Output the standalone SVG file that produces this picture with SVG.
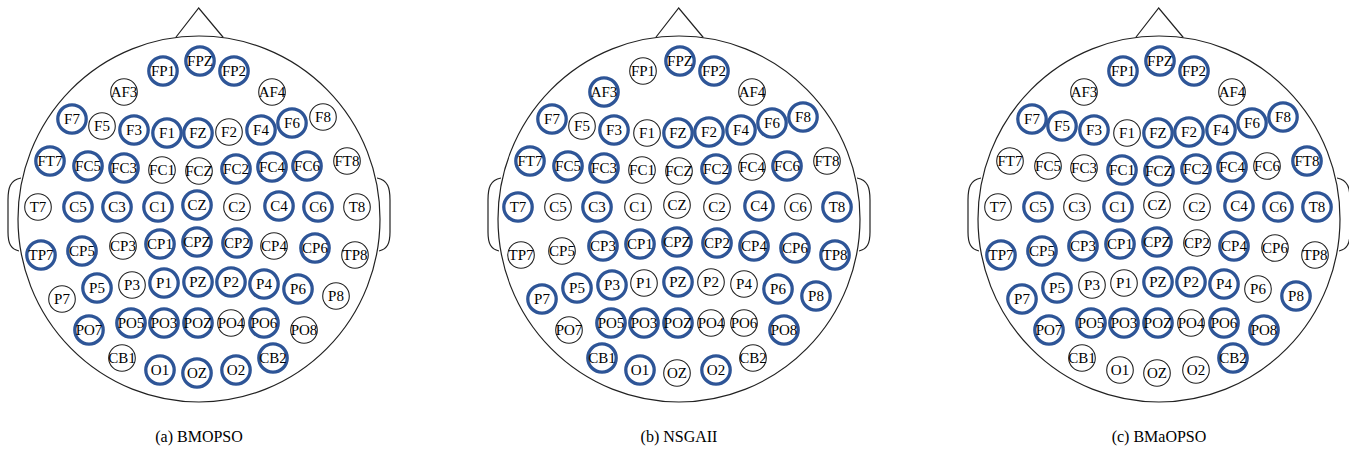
<svg xmlns="http://www.w3.org/2000/svg" width="1349" height="452" viewBox="0 0 1349 452">
<style>
.head{fill:none;stroke:#222;stroke-width:1.2}
.u{fill:none;stroke:#222;stroke-width:1.1}
.s{fill:none;stroke:#2E5597;stroke-width:3.3}
.lb{font-family:"Liberation Serif","Times New Roman",serif;font-size:15px;fill:#000;text-anchor:middle}
.cap{font-family:"Liberation Serif","Times New Roman",serif;font-size:16px;fill:#000;text-anchor:middle}
</style>
<defs>
<g id="outline">
<ellipse class="head" cx="199" cy="219" rx="181" ry="183"/>
<path class="head" d="M175.7,37.5 L198.7,8 L223.3,37.5"/>
<path class="head" d="M21,178 C10,180 8,188 8,200 L8,232 C8,244 11,249 19,251"/>
<path class="head" d="M377,178 C388,180 390,188 390,200 L390,232 C390,244 387,249 379,251"/>
</g>
</defs>
<!-- Head (a) BMOPSO -->
<g id="head-a">
<use href="#outline"/>
<g id="a-FPZ"><circle class="s" cx="200" cy="61" r="14.2"/><text class="lb" x="200" y="66.3">FPZ</text></g>
<g id="a-FP1"><circle class="s" cx="163" cy="71" r="14.2"/><text class="lb" x="163" y="76.3">FP1</text></g>
<g id="a-FP2"><circle class="s" cx="234" cy="71" r="14.2"/><text class="lb" x="234" y="76.3">FP2</text></g>
<g id="a-AF3"><circle class="u" cx="124" cy="92" r="13.3"/><text class="lb" x="124" y="97.3">AF3</text></g>
<g id="a-AF4"><circle class="u" cx="272" cy="92" r="13.3"/><text class="lb" x="272" y="97.3">AF4</text></g>
<g id="a-F7"><circle class="s" cx="72" cy="119" r="14.2"/><text class="lb" x="72" y="124.3">F7</text></g>
<g id="a-F5"><circle class="u" cx="102" cy="126" r="13.3"/><text class="lb" x="102" y="131.3">F5</text></g>
<g id="a-F3"><circle class="s" cx="134" cy="130" r="14.2"/><text class="lb" x="134" y="135.3">F3</text></g>
<g id="a-F1"><circle class="s" cx="167" cy="133" r="14.2"/><text class="lb" x="167" y="138.3">F1</text></g>
<g id="a-FZ"><circle class="s" cx="198" cy="133" r="14.2"/><text class="lb" x="198" y="138.3">FZ</text></g>
<g id="a-F2"><circle class="u" cx="229" cy="132" r="13.3"/><text class="lb" x="229" y="137.3">F2</text></g>
<g id="a-F4"><circle class="s" cx="261" cy="130" r="14.2"/><text class="lb" x="261" y="135.3">F4</text></g>
<g id="a-F6"><circle class="s" cx="292" cy="123" r="14.2"/><text class="lb" x="292" y="128.3">F6</text></g>
<g id="a-F8"><circle class="u" cx="323" cy="117" r="13.3"/><text class="lb" x="323" y="122.3">F8</text></g>
<g id="a-FT7"><circle class="s" cx="50" cy="161" r="14.2"/><text class="lb" x="50" y="166.3">FT7</text></g>
<g id="a-FC5"><circle class="s" cx="88" cy="166" r="14.2"/><text class="lb" x="88" y="171.3">FC5</text></g>
<g id="a-FC3"><circle class="s" cx="124" cy="168" r="14.2"/><text class="lb" x="124" y="173.3">FC3</text></g>
<g id="a-FC1"><circle class="u" cx="162" cy="170" r="13.3"/><text class="lb" x="162" y="175.3">FC1</text></g>
<g id="a-FCZ"><circle class="u" cx="199" cy="171" r="13.3"/><text class="lb" x="199" y="176.3">FCZ</text></g>
<g id="a-FC2"><circle class="s" cx="236" cy="169" r="14.2"/><text class="lb" x="236" y="174.3">FC2</text></g>
<g id="a-FC4"><circle class="s" cx="272" cy="167" r="14.2"/><text class="lb" x="272" y="172.3">FC4</text></g>
<g id="a-FC6"><circle class="s" cx="307" cy="166" r="14.2"/><text class="lb" x="307" y="171.3">FC6</text></g>
<g id="a-FT8"><circle class="u" cx="347" cy="161" r="13.3"/><text class="lb" x="347" y="166.3">FT8</text></g>
<g id="a-T7"><circle class="u" cx="38" cy="207" r="13.3"/><text class="lb" x="38" y="212.3">T7</text></g>
<g id="a-C5"><circle class="s" cx="78" cy="207" r="14.2"/><text class="lb" x="78" y="212.3">C5</text></g>
<g id="a-C3"><circle class="s" cx="117" cy="207" r="14.2"/><text class="lb" x="117" y="212.3">C3</text></g>
<g id="a-C1"><circle class="s" cx="158" cy="207" r="14.2"/><text class="lb" x="158" y="212.3">C1</text></g>
<g id="a-CZ"><circle class="s" cx="197" cy="205" r="14.2"/><text class="lb" x="197" y="210.3">CZ</text></g>
<g id="a-C2"><circle class="u" cx="237" cy="207" r="13.3"/><text class="lb" x="237" y="212.3">C2</text></g>
<g id="a-C4"><circle class="s" cx="279" cy="206" r="14.2"/><text class="lb" x="279" y="211.3">C4</text></g>
<g id="a-C6"><circle class="s" cx="318" cy="207" r="14.2"/><text class="lb" x="318" y="212.3">C6</text></g>
<g id="a-T8"><circle class="u" cx="357" cy="207" r="13.3"/><text class="lb" x="357" y="212.3">T8</text></g>
<g id="a-TP7"><circle class="s" cx="41" cy="255" r="14.2"/><text class="lb" x="41" y="260.3">TP7</text></g>
<g id="a-CP5"><circle class="s" cx="82" cy="251" r="14.2"/><text class="lb" x="82" y="256.3">CP5</text></g>
<g id="a-CP3"><circle class="u" cx="123" cy="246" r="13.3"/><text class="lb" x="123" y="251.3">CP3</text></g>
<g id="a-CP1"><circle class="s" cx="160" cy="244" r="14.2"/><text class="lb" x="160" y="249.3">CP1</text></g>
<g id="a-CPZ"><circle class="s" cx="197" cy="242" r="14.2"/><text class="lb" x="197" y="247.3">CPZ</text></g>
<g id="a-CP2"><circle class="s" cx="237" cy="243" r="14.2"/><text class="lb" x="237" y="248.3">CP2</text></g>
<g id="a-CP4"><circle class="u" cx="274" cy="246" r="13.3"/><text class="lb" x="274" y="251.3">CP4</text></g>
<g id="a-CP6"><circle class="s" cx="315" cy="248" r="14.2"/><text class="lb" x="315" y="253.3">CP6</text></g>
<g id="a-TP8"><circle class="u" cx="355" cy="255" r="13.3"/><text class="lb" x="355" y="260.3">TP8</text></g>
<g id="a-P7"><circle class="u" cx="62" cy="299" r="13.3"/><text class="lb" x="62" y="304.3">P7</text></g>
<g id="a-P5"><circle class="s" cx="97" cy="288" r="14.2"/><text class="lb" x="97" y="293.3">P5</text></g>
<g id="a-P3"><circle class="u" cx="132" cy="285" r="13.3"/><text class="lb" x="132" y="290.3">P3</text></g>
<g id="a-P1"><circle class="s" cx="164" cy="283" r="14.2"/><text class="lb" x="164" y="288.3">P1</text></g>
<g id="a-PZ"><circle class="s" cx="198" cy="282" r="14.2"/><text class="lb" x="198" y="287.3">PZ</text></g>
<g id="a-P2"><circle class="s" cx="231" cy="282" r="14.2"/><text class="lb" x="231" y="287.3">P2</text></g>
<g id="a-P4"><circle class="s" cx="264" cy="284" r="14.2"/><text class="lb" x="264" y="289.3">P4</text></g>
<g id="a-P6"><circle class="s" cx="298" cy="289" r="14.2"/><text class="lb" x="298" y="294.3">P6</text></g>
<g id="a-P8"><circle class="u" cx="336" cy="296" r="13.3"/><text class="lb" x="336" y="301.3">P8</text></g>
<g id="a-PO7"><circle class="s" cx="89" cy="330" r="14.2"/><text class="lb" x="89" y="335.3">PO7</text></g>
<g id="a-PO5"><circle class="s" cx="131" cy="323" r="14.2"/><text class="lb" x="131" y="328.3">PO5</text></g>
<g id="a-PO3"><circle class="s" cx="164" cy="323" r="14.2"/><text class="lb" x="164" y="328.3">PO3</text></g>
<g id="a-POZ"><circle class="s" cx="198" cy="323" r="14.2"/><text class="lb" x="198" y="328.3">POZ</text></g>
<g id="a-PO4"><circle class="u" cx="231" cy="323" r="13.3"/><text class="lb" x="231" y="328.3">PO4</text></g>
<g id="a-PO6"><circle class="s" cx="264" cy="323" r="14.2"/><text class="lb" x="264" y="328.3">PO6</text></g>
<g id="a-PO8"><circle class="u" cx="304" cy="330" r="13.3"/><text class="lb" x="304" y="335.3">PO8</text></g>
<g id="a-CB1"><circle class="u" cx="122" cy="358" r="13.3"/><text class="lb" x="122" y="363.3">CB1</text></g>
<g id="a-O1"><circle class="s" cx="160" cy="370" r="14.2"/><text class="lb" x="160" y="375.3">O1</text></g>
<g id="a-OZ"><circle class="s" cx="197" cy="373" r="14.2"/><text class="lb" x="197" y="378.3">OZ</text></g>
<g id="a-O2"><circle class="s" cx="236" cy="370" r="14.2"/><text class="lb" x="236" y="375.3">O2</text></g>
<g id="a-CB2"><circle class="s" cx="273" cy="358" r="14.2"/><text class="lb" x="273" y="363.3">CB2</text></g>
<text class="cap" x="199" y="442">(a) BMOPSO</text>
</g>
<!-- Head (b) NSGAII -->
<g id="head-b" transform="translate(480,0)">
<use href="#outline"/>
<g id="b-FPZ"><circle class="s" cx="200" cy="61" r="14.2"/><text class="lb" x="200" y="66.3">FPZ</text></g>
<g id="b-FP1"><circle class="u" cx="163" cy="71" r="13.3"/><text class="lb" x="163" y="76.3">FP1</text></g>
<g id="b-FP2"><circle class="s" cx="234" cy="71" r="14.2"/><text class="lb" x="234" y="76.3">FP2</text></g>
<g id="b-AF3"><circle class="s" cx="124" cy="92" r="14.2"/><text class="lb" x="124" y="97.3">AF3</text></g>
<g id="b-AF4"><circle class="u" cx="272" cy="92" r="13.3"/><text class="lb" x="272" y="97.3">AF4</text></g>
<g id="b-F7"><circle class="s" cx="72" cy="119" r="14.2"/><text class="lb" x="72" y="124.3">F7</text></g>
<g id="b-F5"><circle class="u" cx="102" cy="126" r="13.3"/><text class="lb" x="102" y="131.3">F5</text></g>
<g id="b-F3"><circle class="s" cx="134" cy="130" r="14.2"/><text class="lb" x="134" y="135.3">F3</text></g>
<g id="b-F1"><circle class="u" cx="167" cy="133" r="13.3"/><text class="lb" x="167" y="138.3">F1</text></g>
<g id="b-FZ"><circle class="s" cx="198" cy="133" r="14.2"/><text class="lb" x="198" y="138.3">FZ</text></g>
<g id="b-F2"><circle class="s" cx="229" cy="132" r="14.2"/><text class="lb" x="229" y="137.3">F2</text></g>
<g id="b-F4"><circle class="s" cx="261" cy="130" r="14.2"/><text class="lb" x="261" y="135.3">F4</text></g>
<g id="b-F6"><circle class="s" cx="292" cy="123" r="14.2"/><text class="lb" x="292" y="128.3">F6</text></g>
<g id="b-F8"><circle class="s" cx="323" cy="117" r="14.2"/><text class="lb" x="323" y="122.3">F8</text></g>
<g id="b-FT7"><circle class="s" cx="50" cy="161" r="14.2"/><text class="lb" x="50" y="166.3">FT7</text></g>
<g id="b-FC5"><circle class="s" cx="88" cy="166" r="14.2"/><text class="lb" x="88" y="171.3">FC5</text></g>
<g id="b-FC3"><circle class="s" cx="124" cy="168" r="14.2"/><text class="lb" x="124" y="173.3">FC3</text></g>
<g id="b-FC1"><circle class="u" cx="162" cy="170" r="13.3"/><text class="lb" x="162" y="175.3">FC1</text></g>
<g id="b-FCZ"><circle class="u" cx="199" cy="171" r="13.3"/><text class="lb" x="199" y="176.3">FCZ</text></g>
<g id="b-FC2"><circle class="s" cx="236" cy="169" r="14.2"/><text class="lb" x="236" y="174.3">FC2</text></g>
<g id="b-FC4"><circle class="u" cx="272" cy="167" r="13.3"/><text class="lb" x="272" y="172.3">FC4</text></g>
<g id="b-FC6"><circle class="s" cx="307" cy="166" r="14.2"/><text class="lb" x="307" y="171.3">FC6</text></g>
<g id="b-FT8"><circle class="u" cx="347" cy="161" r="13.3"/><text class="lb" x="347" y="166.3">FT8</text></g>
<g id="b-T7"><circle class="s" cx="38" cy="207" r="14.2"/><text class="lb" x="38" y="212.3">T7</text></g>
<g id="b-C5"><circle class="u" cx="78" cy="207" r="13.3"/><text class="lb" x="78" y="212.3">C5</text></g>
<g id="b-C3"><circle class="s" cx="117" cy="207" r="14.2"/><text class="lb" x="117" y="212.3">C3</text></g>
<g id="b-C1"><circle class="u" cx="158" cy="207" r="13.3"/><text class="lb" x="158" y="212.3">C1</text></g>
<g id="b-CZ"><circle class="u" cx="197" cy="205" r="13.3"/><text class="lb" x="197" y="210.3">CZ</text></g>
<g id="b-C2"><circle class="u" cx="237" cy="207" r="13.3"/><text class="lb" x="237" y="212.3">C2</text></g>
<g id="b-C4"><circle class="s" cx="279" cy="206" r="14.2"/><text class="lb" x="279" y="211.3">C4</text></g>
<g id="b-C6"><circle class="u" cx="318" cy="207" r="13.3"/><text class="lb" x="318" y="212.3">C6</text></g>
<g id="b-T8"><circle class="s" cx="357" cy="207" r="14.2"/><text class="lb" x="357" y="212.3">T8</text></g>
<g id="b-TP7"><circle class="u" cx="41" cy="255" r="13.3"/><text class="lb" x="41" y="260.3">TP7</text></g>
<g id="b-CP5"><circle class="u" cx="82" cy="251" r="13.3"/><text class="lb" x="82" y="256.3">CP5</text></g>
<g id="b-CP3"><circle class="s" cx="123" cy="246" r="14.2"/><text class="lb" x="123" y="251.3">CP3</text></g>
<g id="b-CP1"><circle class="s" cx="160" cy="244" r="14.2"/><text class="lb" x="160" y="249.3">CP1</text></g>
<g id="b-CPZ"><circle class="s" cx="197" cy="242" r="14.2"/><text class="lb" x="197" y="247.3">CPZ</text></g>
<g id="b-CP2"><circle class="s" cx="237" cy="243" r="14.2"/><text class="lb" x="237" y="248.3">CP2</text></g>
<g id="b-CP4"><circle class="s" cx="274" cy="246" r="14.2"/><text class="lb" x="274" y="251.3">CP4</text></g>
<g id="b-CP6"><circle class="s" cx="315" cy="248" r="14.2"/><text class="lb" x="315" y="253.3">CP6</text></g>
<g id="b-TP8"><circle class="s" cx="355" cy="255" r="14.2"/><text class="lb" x="355" y="260.3">TP8</text></g>
<g id="b-P7"><circle class="s" cx="62" cy="299" r="14.2"/><text class="lb" x="62" y="304.3">P7</text></g>
<g id="b-P5"><circle class="s" cx="97" cy="288" r="14.2"/><text class="lb" x="97" y="293.3">P5</text></g>
<g id="b-P3"><circle class="s" cx="132" cy="285" r="14.2"/><text class="lb" x="132" y="290.3">P3</text></g>
<g id="b-P1"><circle class="u" cx="164" cy="283" r="13.3"/><text class="lb" x="164" y="288.3">P1</text></g>
<g id="b-PZ"><circle class="s" cx="198" cy="282" r="14.2"/><text class="lb" x="198" y="287.3">PZ</text></g>
<g id="b-P2"><circle class="u" cx="231" cy="282" r="13.3"/><text class="lb" x="231" y="287.3">P2</text></g>
<g id="b-P4"><circle class="u" cx="264" cy="284" r="13.3"/><text class="lb" x="264" y="289.3">P4</text></g>
<g id="b-P6"><circle class="s" cx="298" cy="289" r="14.2"/><text class="lb" x="298" y="294.3">P6</text></g>
<g id="b-P8"><circle class="s" cx="336" cy="296" r="14.2"/><text class="lb" x="336" y="301.3">P8</text></g>
<g id="b-PO7"><circle class="u" cx="89" cy="330" r="13.3"/><text class="lb" x="89" y="335.3">PO7</text></g>
<g id="b-PO5"><circle class="s" cx="131" cy="323" r="14.2"/><text class="lb" x="131" y="328.3">PO5</text></g>
<g id="b-PO3"><circle class="s" cx="164" cy="323" r="14.2"/><text class="lb" x="164" y="328.3">PO3</text></g>
<g id="b-POZ"><circle class="s" cx="198" cy="323" r="14.2"/><text class="lb" x="198" y="328.3">POZ</text></g>
<g id="b-PO4"><circle class="u" cx="231" cy="323" r="13.3"/><text class="lb" x="231" y="328.3">PO4</text></g>
<g id="b-PO6"><circle class="u" cx="264" cy="323" r="13.3"/><text class="lb" x="264" y="328.3">PO6</text></g>
<g id="b-PO8"><circle class="s" cx="304" cy="330" r="14.2"/><text class="lb" x="304" y="335.3">PO8</text></g>
<g id="b-CB1"><circle class="s" cx="122" cy="358" r="14.2"/><text class="lb" x="122" y="363.3">CB1</text></g>
<g id="b-O1"><circle class="s" cx="160" cy="370" r="14.2"/><text class="lb" x="160" y="375.3">O1</text></g>
<g id="b-OZ"><circle class="u" cx="197" cy="373" r="13.3"/><text class="lb" x="197" y="378.3">OZ</text></g>
<g id="b-O2"><circle class="s" cx="236" cy="370" r="14.2"/><text class="lb" x="236" y="375.3">O2</text></g>
<g id="b-CB2"><circle class="u" cx="273" cy="358" r="13.3"/><text class="lb" x="273" y="363.3">CB2</text></g>
<text class="cap" x="199" y="442">(b) NSGAII</text>
</g>
<!-- Head (c) BMaOPSO -->
<g id="head-c" transform="translate(960,0)">
<use href="#outline"/>
<g id="c-FPZ"><circle class="s" cx="200" cy="61" r="14.2"/><text class="lb" x="200" y="66.3">FPZ</text></g>
<g id="c-FP1"><circle class="s" cx="163" cy="71" r="14.2"/><text class="lb" x="163" y="76.3">FP1</text></g>
<g id="c-FP2"><circle class="s" cx="234" cy="71" r="14.2"/><text class="lb" x="234" y="76.3">FP2</text></g>
<g id="c-AF3"><circle class="u" cx="124" cy="92" r="13.3"/><text class="lb" x="124" y="97.3">AF3</text></g>
<g id="c-AF4"><circle class="u" cx="272" cy="92" r="13.3"/><text class="lb" x="272" y="97.3">AF4</text></g>
<g id="c-F7"><circle class="s" cx="72" cy="119" r="14.2"/><text class="lb" x="72" y="124.3">F7</text></g>
<g id="c-F5"><circle class="s" cx="102" cy="126" r="14.2"/><text class="lb" x="102" y="131.3">F5</text></g>
<g id="c-F3"><circle class="s" cx="134" cy="130" r="14.2"/><text class="lb" x="134" y="135.3">F3</text></g>
<g id="c-F1"><circle class="u" cx="167" cy="133" r="13.3"/><text class="lb" x="167" y="138.3">F1</text></g>
<g id="c-FZ"><circle class="s" cx="198" cy="133" r="14.2"/><text class="lb" x="198" y="138.3">FZ</text></g>
<g id="c-F2"><circle class="s" cx="229" cy="132" r="14.2"/><text class="lb" x="229" y="137.3">F2</text></g>
<g id="c-F4"><circle class="s" cx="261" cy="130" r="14.2"/><text class="lb" x="261" y="135.3">F4</text></g>
<g id="c-F6"><circle class="s" cx="292" cy="123" r="14.2"/><text class="lb" x="292" y="128.3">F6</text></g>
<g id="c-F8"><circle class="s" cx="323" cy="117" r="14.2"/><text class="lb" x="323" y="122.3">F8</text></g>
<g id="c-FT7"><circle class="u" cx="50" cy="161" r="13.3"/><text class="lb" x="50" y="166.3">FT7</text></g>
<g id="c-FC5"><circle class="u" cx="88" cy="166" r="13.3"/><text class="lb" x="88" y="171.3">FC5</text></g>
<g id="c-FC3"><circle class="u" cx="124" cy="168" r="13.3"/><text class="lb" x="124" y="173.3">FC3</text></g>
<g id="c-FC1"><circle class="s" cx="162" cy="170" r="14.2"/><text class="lb" x="162" y="175.3">FC1</text></g>
<g id="c-FCZ"><circle class="s" cx="199" cy="171" r="14.2"/><text class="lb" x="199" y="176.3">FCZ</text></g>
<g id="c-FC2"><circle class="s" cx="236" cy="169" r="14.2"/><text class="lb" x="236" y="174.3">FC2</text></g>
<g id="c-FC4"><circle class="s" cx="272" cy="167" r="14.2"/><text class="lb" x="272" y="172.3">FC4</text></g>
<g id="c-FC6"><circle class="u" cx="307" cy="166" r="13.3"/><text class="lb" x="307" y="171.3">FC6</text></g>
<g id="c-FT8"><circle class="s" cx="347" cy="161" r="14.2"/><text class="lb" x="347" y="166.3">FT8</text></g>
<g id="c-T7"><circle class="u" cx="38" cy="207" r="13.3"/><text class="lb" x="38" y="212.3">T7</text></g>
<g id="c-C5"><circle class="s" cx="78" cy="207" r="14.2"/><text class="lb" x="78" y="212.3">C5</text></g>
<g id="c-C3"><circle class="u" cx="117" cy="207" r="13.3"/><text class="lb" x="117" y="212.3">C3</text></g>
<g id="c-C1"><circle class="s" cx="158" cy="207" r="14.2"/><text class="lb" x="158" y="212.3">C1</text></g>
<g id="c-CZ"><circle class="u" cx="197" cy="205" r="13.3"/><text class="lb" x="197" y="210.3">CZ</text></g>
<g id="c-C2"><circle class="u" cx="237" cy="207" r="13.3"/><text class="lb" x="237" y="212.3">C2</text></g>
<g id="c-C4"><circle class="s" cx="279" cy="206" r="14.2"/><text class="lb" x="279" y="211.3">C4</text></g>
<g id="c-C6"><circle class="s" cx="318" cy="207" r="14.2"/><text class="lb" x="318" y="212.3">C6</text></g>
<g id="c-T8"><circle class="s" cx="357" cy="207" r="14.2"/><text class="lb" x="357" y="212.3">T8</text></g>
<g id="c-TP7"><circle class="s" cx="41" cy="255" r="14.2"/><text class="lb" x="41" y="260.3">TP7</text></g>
<g id="c-CP5"><circle class="s" cx="82" cy="251" r="14.2"/><text class="lb" x="82" y="256.3">CP5</text></g>
<g id="c-CP3"><circle class="s" cx="123" cy="246" r="14.2"/><text class="lb" x="123" y="251.3">CP3</text></g>
<g id="c-CP1"><circle class="s" cx="160" cy="244" r="14.2"/><text class="lb" x="160" y="249.3">CP1</text></g>
<g id="c-CPZ"><circle class="s" cx="197" cy="242" r="14.2"/><text class="lb" x="197" y="247.3">CPZ</text></g>
<g id="c-CP2"><circle class="u" cx="237" cy="243" r="13.3"/><text class="lb" x="237" y="248.3">CP2</text></g>
<g id="c-CP4"><circle class="s" cx="274" cy="246" r="14.2"/><text class="lb" x="274" y="251.3">CP4</text></g>
<g id="c-CP6"><circle class="u" cx="315" cy="248" r="13.3"/><text class="lb" x="315" y="253.3">CP6</text></g>
<g id="c-TP8"><circle class="u" cx="355" cy="255" r="13.3"/><text class="lb" x="355" y="260.3">TP8</text></g>
<g id="c-P7"><circle class="s" cx="62" cy="299" r="14.2"/><text class="lb" x="62" y="304.3">P7</text></g>
<g id="c-P5"><circle class="s" cx="97" cy="288" r="14.2"/><text class="lb" x="97" y="293.3">P5</text></g>
<g id="c-P3"><circle class="u" cx="132" cy="285" r="13.3"/><text class="lb" x="132" y="290.3">P3</text></g>
<g id="c-P1"><circle class="u" cx="164" cy="283" r="13.3"/><text class="lb" x="164" y="288.3">P1</text></g>
<g id="c-PZ"><circle class="s" cx="198" cy="282" r="14.2"/><text class="lb" x="198" y="287.3">PZ</text></g>
<g id="c-P2"><circle class="s" cx="231" cy="282" r="14.2"/><text class="lb" x="231" y="287.3">P2</text></g>
<g id="c-P4"><circle class="s" cx="264" cy="284" r="14.2"/><text class="lb" x="264" y="289.3">P4</text></g>
<g id="c-P6"><circle class="u" cx="298" cy="289" r="13.3"/><text class="lb" x="298" y="294.3">P6</text></g>
<g id="c-P8"><circle class="s" cx="336" cy="296" r="14.2"/><text class="lb" x="336" y="301.3">P8</text></g>
<g id="c-PO7"><circle class="s" cx="89" cy="330" r="14.2"/><text class="lb" x="89" y="335.3">PO7</text></g>
<g id="c-PO5"><circle class="s" cx="131" cy="323" r="14.2"/><text class="lb" x="131" y="328.3">PO5</text></g>
<g id="c-PO3"><circle class="s" cx="164" cy="323" r="14.2"/><text class="lb" x="164" y="328.3">PO3</text></g>
<g id="c-POZ"><circle class="s" cx="198" cy="323" r="14.2"/><text class="lb" x="198" y="328.3">POZ</text></g>
<g id="c-PO4"><circle class="u" cx="231" cy="323" r="13.3"/><text class="lb" x="231" y="328.3">PO4</text></g>
<g id="c-PO6"><circle class="s" cx="264" cy="323" r="14.2"/><text class="lb" x="264" y="328.3">PO6</text></g>
<g id="c-PO8"><circle class="s" cx="304" cy="330" r="14.2"/><text class="lb" x="304" y="335.3">PO8</text></g>
<g id="c-CB1"><circle class="u" cx="122" cy="358" r="13.3"/><text class="lb" x="122" y="363.3">CB1</text></g>
<g id="c-O1"><circle class="u" cx="160" cy="370" r="13.3"/><text class="lb" x="160" y="375.3">O1</text></g>
<g id="c-OZ"><circle class="u" cx="197" cy="373" r="13.3"/><text class="lb" x="197" y="378.3">OZ</text></g>
<g id="c-O2"><circle class="u" cx="236" cy="370" r="13.3"/><text class="lb" x="236" y="375.3">O2</text></g>
<g id="c-CB2"><circle class="s" cx="273" cy="358" r="14.2"/><text class="lb" x="273" y="363.3">CB2</text></g>
<text class="cap" x="199" y="442">(c) BMaOPSO</text>
</g>
</svg>
